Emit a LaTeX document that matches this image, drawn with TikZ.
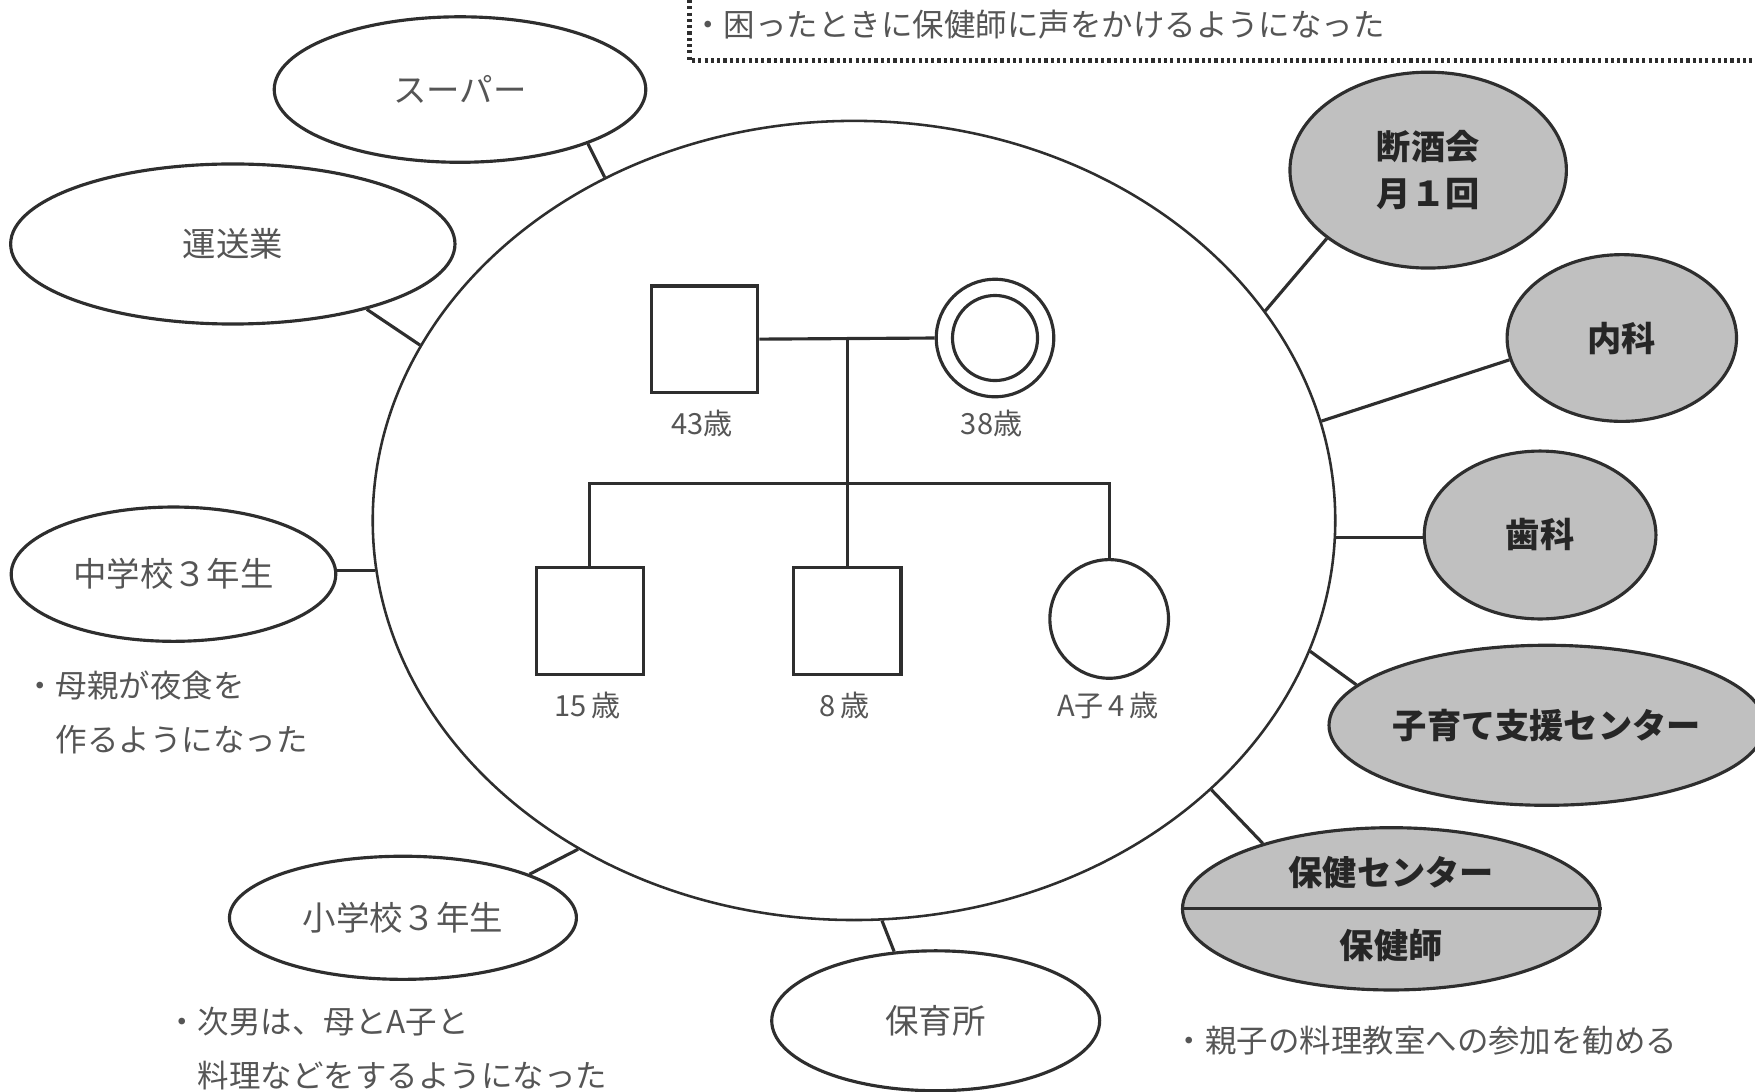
\documentclass[tikz,border=0pt]{standalone}
\usepackage{fontspec}
\setmainfont{Noto Sans CJK JP}
\usetikzlibrary{shapes.geometric}
\definecolor{linec}{HTML}{2E2E2E}
\definecolor{txtg}{HTML}{555555}
\definecolor{txtd}{HTML}{262626}
\definecolor{fillg}{HTML}{C0C0C0}
\begin{document}
\begin{tikzpicture}[x=0.1mm,y=-0.1mm,
  outw/.style={ellipse, draw=linec, line width=0.8pt, fill=white, inner sep=0pt, text=txtg, font=\fontsize{8.5pt}{10pt}\selectfont},
  outg/.style={ellipse, draw=linec, line width=0.8pt, fill=fillg, inner sep=0pt, text=txtd, align=center, font=\fontsize{8.7pt}{12pt}\selectfont\bfseries},
  famring/.style={ellipse, draw=linec, line width=0.65pt, inner sep=0pt, minimum width=86mm, minimum height=71.4mm},
  conn/.style={draw=linec, line width=0.8pt},
  note/.style={text=txtg, align=left, inner sep=0pt, font=\fontsize{8pt}{13.7pt}\selectfont},
  age/.style={text=txtg, inner sep=0pt, font=\fontsize{7.4pt}{9pt}\selectfont},
  sq/.style={rectangle, draw=linec, line width=0.8pt, minimum size=9.5mm, inner sep=0pt},
  circ/.style={circle, draw=linec, line width=0.8pt, inner sep=0pt},
  dotline/.style={draw=linec, line width=1.3pt, dash pattern=on 0.8pt off 0.8pt}
]
\useasboundingbox (0,0) rectangle (1568,975);

% dotted box (top right)
\coordinate (bxtop) at (616,0);
\coordinate (bxcorner) at (616,54);
\coordinate (bxright) at (1568,54);
\draw[dotline] (bxtop) -- (bxcorner) -- (bxright);
\node[note, anchor=west] (topnote) at (618,22) {・困ったときに保健師に声をかけるようになった};

% family ring
\node[famring] (fam) at (763,465) {};

% outer ellipses
\node[outw, minimum width=33.2mm, minimum height=13.0mm] (super) at (411,80) {スーパー};
\node[outw, minimum width=39.7mm, minimum height=14.3mm] (unso) at (208,218) {運送業};
\node[outw, minimum width=29.0mm, minimum height=12.0mm] (chu) at (155,513) {中学校３年生};
\node[outw, minimum width=31.0mm, minimum height=11.0mm] (sho) at (360,820) {小学校３年生};
\node[outw, minimum width=29.3mm, minimum height=12.5mm] (hoiku) at (836,912) {保育所};

\node[outg, minimum width=24.7mm, minimum height=17.5mm] (danshu) at (1276,152) {断酒会\\月１回};
\node[outg, minimum width=20.5mm, minimum height=14.9mm] (naika) at (1449,302) {内科};
\node[outg, minimum width=20.7mm, minimum height=15.0mm] (shika) at (1376,478) {歯科};
\node[outg, minimum width=37.1mm, minimum height=14.3mm] (kosodate) at (1382,648) {子育て支援センター};
\node[outg, minimum width=37.3mm, minimum height=14.5mm, font=\fontsize{8.7pt}{18.5pt}\selectfont\bfseries] (hoken) at (1243,812) {保健センター\\保健師};
\draw[conn] (hoken.west) -- (hoken.east);

% connectors
\draw[conn] (fam.126.2) -- (super.-23.8);
\draw[conn] (fam.158.6) -- (unso.-26.2);
\draw[conn] (fam.186.5) -- (chu.east |- fam.186.5);
\draw[conn] (fam.230) -- (sho.19.2);
\draw[conn] (fam.-86.3) -- (hoiku.121.5);
\draw[conn] (fam.27.8) -- (danshu.214);
\draw[conn] (fam.12.7) -- (naika.191.5);
\draw[conn] (fam.-2.6) -- (shika.west |- fam.-2.6);
\draw[conn] (fam.-16.7) -- (kosodate.168.3);
\draw[conn] (fam.-37.9) -- (hoken.153);

% genogram
\node[sq] (father) at (629.5,303) {};
\node[circ, minimum size=10.5mm] (mother) at (889,302) {};
\node[circ, minimum size=7.6mm] (motherin) at (889,302) {};
\node[sq, minimum size=9.6mm] (son1) at (527,555) {};
\node[sq, minimum size=9.6mm] (son2) at (757,555) {};
\node[circ, minimum size=10.6mm] (akochan) at (991,553) {};

\coordinate (mar) at (757,303);
\coordinate (sib) at (757,432);
\draw[conn] (father.east) -- (mother.west);
\draw[conn] (mar) -- (son2.north);
\draw[conn] (son1.north) |- (sib) -| (akochan.north);

\node[age] (a43) at (627,378) {43歳};
\node[age] (a38) at (886,378) {38歳};
\node[age] (a15) at (525,630) {15\,歳};
\node[age] (a8) at (755,630) {8\,歳};
\node[age] (aA) at (990,630) {A子\,4\,歳};

% notes
\node[note, anchor=north west] (note1) at (21,599) {・母親が夜食を\\\hspace*{1em}作るようになった};
\node[note, anchor=north west] (note2) at (148,899) {・次男は、母とA子と\\\hspace*{1em}料理などをするようになった};
\node[note, anchor=west] (note3) at (1048,930) {・親子の料理教室への参加を勧める};
\end{tikzpicture}
\end{document}
